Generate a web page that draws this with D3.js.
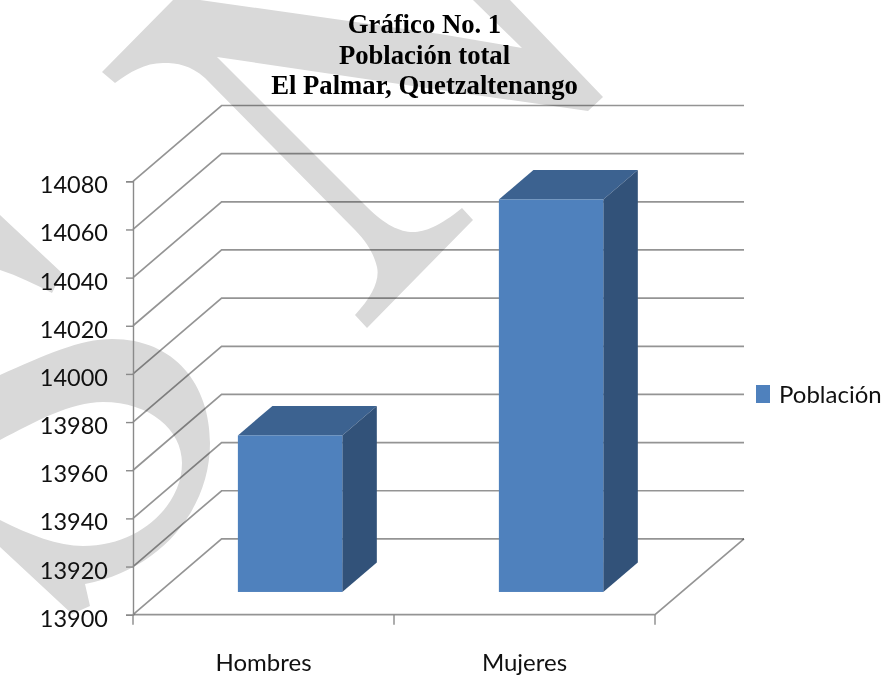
<!DOCTYPE html>
<html><head><meta charset="utf-8">
<script src="https://cdn.jsdelivr.net/npm/d3@7"></script>
<style>html,body{margin:0;padding:0;background:#fff}svg{display:block;filter:blur(0.45px)}</style>
</head><body><svg id="c" width="883" height="677"></svg>
<script>
const titleLines = ["Gráfico No. 1","Población total","El Palmar, Quetzaltenango"];
const categories = ["Hombres","Mujeres"];
const values = [13965,14063];
const yTicks = [13900,13920,13940,13960,13980,14000,14020,14040,14060,14080];
const seriesName = "Población";

const svg = d3.select("#c");
const y = d3.scaleLinear().domain([13900,14080]).range([614.7,181.3]);
const x = d3.scaleBand().domain(categories).range([133,655]).paddingInner(0).paddingOuter(0);
const wallDx = 88.6, wallDy = -75.8;

// watermark
const wm = svg.append("g").attr("fill","#d9d9d9");
[
 "M173,0 L200,0 L440,34 L522,48 L473,0 L510,0 L603,97 L588,111 L440,90 L217,57 L367,207 C385,225 400,232 413,232 C425,232 440,226 462,208 L473,220 L367,328 L355,315 C372,297 380,280 377,267 C374,255 368,243 355,230 L205,78 C190,65 178,63 163,63 C145,63 130,72 115,83 L102,72 Z",
 "M0,215 L62,273 L52,293 C35,284 18,276 0,270 Z",
 "M0,375 C45,355 80,339 112,339 C175,339 210,385 210,443 C210,510 160,570 85,584 L90,606 L72,614 L0,547 L0,520 C30,535 58,546 83,546 C140,546 182,505 182,463 C182,430 150,402 103,402 C70,402 35,422 0,440 Z"
].forEach(d => wm.append("path").attr("d",d));

// grid
const grid = svg.append("g").attr("fill","none");
yTicks.forEach(v => {
  const y0 = y(v);
  grid.append("path")
    .attr("d",`M133,${y0} L${133+wallDx},${y0+wallDy} L744,${y0+wallDy}`)
    .attr("stroke","#000").attr("stroke-opacity",0.42).attr("stroke-width",1.7);
});
const fy = y(13900);
grid.append("path").attr("d",`M133,${fy} L655,${fy} L744,${fy+wallDy}`)
  .attr("stroke","#000").attr("stroke-opacity",0.42).attr("stroke-width",1.7);

// axes
const ax = svg.append("g").attr("transform","translate(133,0)")
  .call(d3.axisLeft(y).tickValues(yTicks).tickFormat(d3.format("d")).tickSize(7).tickPadding(18));
const bx = svg.append("g").attr("transform",`translate(0,${fy})`)
  .call(d3.axisBottom(x).tickSize(0).tickPadding(40));
[ax,bx].forEach(g=>g.selectAll(".domain,.tick line").attr("stroke","#8a8a8a").attr("stroke-width",1.4));
ax.selectAll("text").attr("font-family","Lato").attr("font-size",23.5).attr("fill","#111").attr("dy","0.49em");
bx.selectAll("text").attr("font-family","Lato").attr("font-size",24).attr("fill","#111").attr("dy","0.7em");
bx.select(".domain").remove();
const xEdges = [...categories.map(c=>x(c)), x.range()[1]];
svg.append("g").selectAll("line").data(xEdges).join("line")
  .attr("x1",d=>d).attr("x2",d=>d).attr("y1",fy).attr("y2",fy+10)
  .attr("stroke","#8a8a8a").attr("stroke-width",1.4);

// 3D bars
const front = 0.3, back = 0.69, barW = x.bandwidth()*0.4;
const bars = svg.append("g").selectAll("g").data(categories.map((c,i)=>({c,v:values[i]}))).join("g");
const fdx = wallDx*front, fdy = wallDy*front, bdx = wallDx*back, bdy = wallDy*back;
function geom(d){
  const l = x(d.c)+x.bandwidth()/2-barW/2+fdx, r = l+barW, t = y(d.v)+fdy, b = y(13900)+fdy;
  return {l,r,t,b,ddx:bdx-fdx,ddy:bdy-fdy};
}
bars.append("path").attr("fill","#3c6290").attr("d",d=>{const g=geom(d);
  return `M${g.l},${g.t} L${g.l+g.ddx},${g.t+g.ddy} L${g.r+g.ddx},${g.t+g.ddy} L${g.r},${g.t} Z`;});
bars.append("path").attr("fill","#325279").attr("d",d=>{const g=geom(d);
  return `M${g.r},${g.t} L${g.r+g.ddx},${g.t+g.ddy} L${g.r+g.ddx},${g.b+g.ddy} L${g.r},${g.b} Z`;});
bars.append("rect").attr("fill","#4f81bd")
  .attr("x",d=>geom(d).l).attr("y",d=>geom(d).t)
  .attr("width",barW).attr("height",d=>geom(d).b-geom(d).t);

// title
svg.append("g").selectAll("text").data(titleLines).join("text")
  .attr("x",424.5).attr("y",(d,i)=>33+i*30.5).attr("text-anchor","middle")
  .attr("font-family","Liberation Serif").attr("font-weight","bold").attr("font-size",26.7).attr("fill","#000")
  .text(d=>d);

// legend
svg.append("rect").attr("x",756).attr("y",385).attr("width",14).attr("height",18).attr("fill","#4f81bd");
svg.append("text").attr("x",779).attr("y",403).attr("font-family","Lato").attr("font-size",24).attr("fill","#111").text(seriesName);
</script></body></html>
